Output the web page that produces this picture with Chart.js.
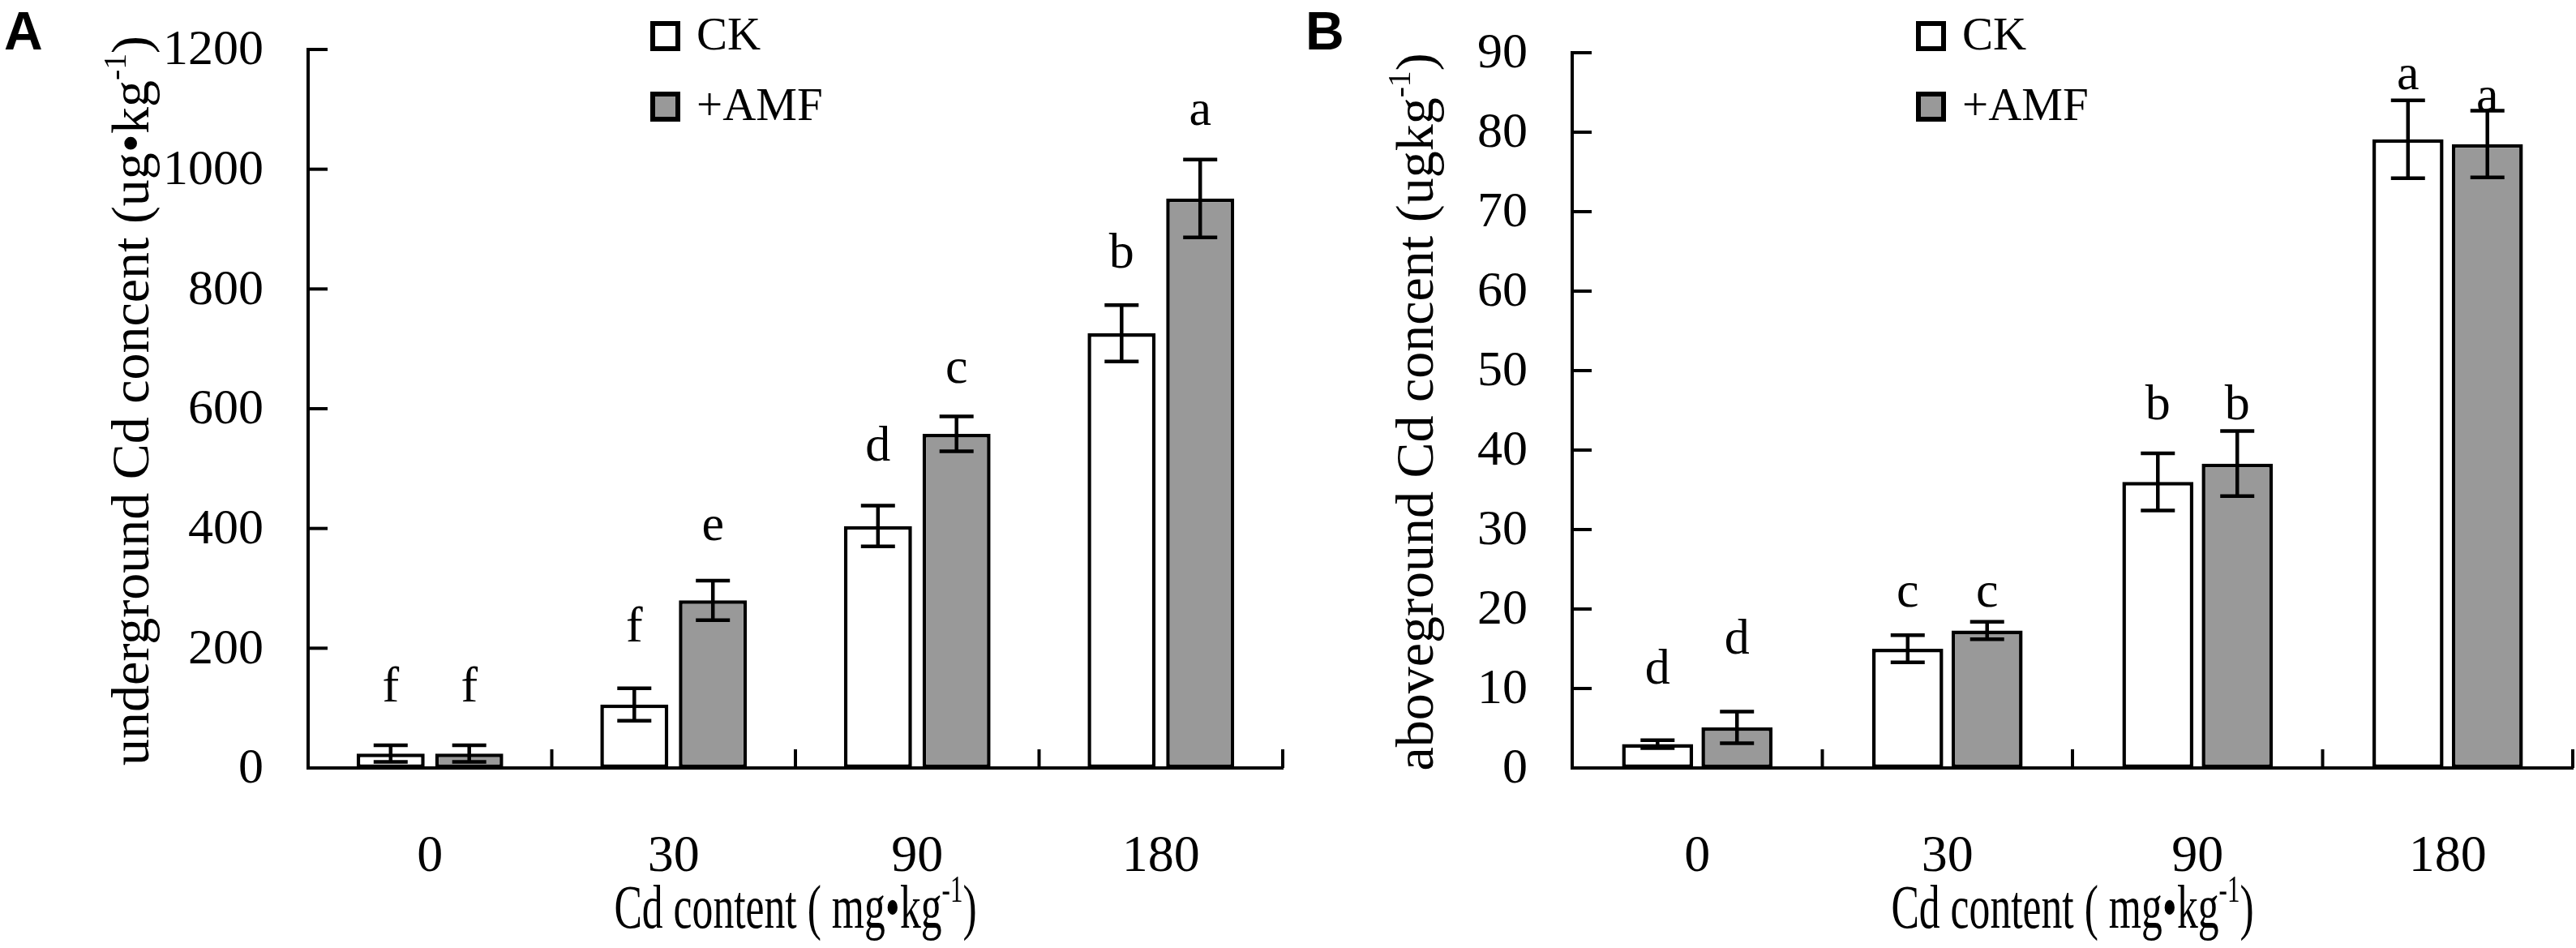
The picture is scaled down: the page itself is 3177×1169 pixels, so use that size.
<!DOCTYPE html>
<html>
<head>
<meta charset="utf-8">
<script src="https://cdn.jsdelivr.net/npm/chart.js@4.4.1/dist/chart.umd.min.js"></script>
<style>
  html, body { margin: 0; padding: 0; background: #fff; }
  #wrap { position: relative; width: 3177px; height: 1169px; overflow: hidden; }
  .panel { position: absolute; top: 0; height: 1169px; }
</style>
</head>
<body>
<div id="wrap">
  <div class="panel" style="left:0;width:1590px"><canvas id="chartA"></canvas></div>
  <div class="panel" style="left:1590px;width:1587px"><canvas id="chartB"></canvas></div>
</div>
<script>
/* ── data ── */
const doses = ['0', '30', '90', '180'];
const seriesNames = ['CK', '+AMF'];

// A: underground Cd (ug/kg)
const ugTicks    = [0, 200, 400, 600, 800, 1000, 1200];
const ugCK       = [24, 106, 404, 726];
const ugCKerr    = [14, 27, 34, 47];
const ugAMF      = [24, 280, 558, 951];
const ugAMFerr   = [14, 33, 29, 65];
const ugCKsig    = ['f', 'f', 'd', 'b'];
const ugAMFsig   = ['f', 'e', 'c', 'a'];
const ugCKsigAt  = [133, 234, 536, 858];
const ugAMFsigAt = [133, 402, 665, 1096];

// B: aboveground Cd (ug/kg)
const agTicks    = [0, 10, 20, 30, 40, 50, 60, 70, 80, 90];
const agCK       = [3.0, 15.0, 36.0, 79.1];
const agCKerr    = [0.5, 1.7, 3.6, 4.9];
const agAMF      = [5.1, 17.3, 38.3, 78.5];
const agAMFerr   = [2.0, 1.1, 4.1, 4.2];
const agCKsig    = ['d', 'c', 'b', 'a'];
const agAMFsig   = ['d', 'c', 'b', 'a'];
const agCKsigAt  = [12.3, 22.0, 45.5, 87.1];
const agAMFsigAt = [16.1, 22.0, 45.5, 84.3];

/* ── style ── */
const SERIF = '"Liberation Serif", "Times New Roman", serif';
const SANS  = '"Liberation Sans", Arial, sans-serif';
const GREY  = '#999999';
const INK   = '#000';

const panels = {
  chartA: {
    letter: 'A', letterX: 5,
    yTitle: [{ t: 'underground Cd concent (ug\u2022kg' }, { t: '-1', sup: true }, { t: ')' }],
    yTitleX: 161, yTitleY: 494,
    ticks: ugTicks, legendX: 802,
  },
  chartB: {
    letter: 'B', letterX: 20,
    yTitle: [{ t: 'aboveground Cd concent (ugkg' }, { t: '-1', sup: true }, { t: ')' }],
    yTitleX: 155, yTitleY: 508,
    ticks: agTicks, legendX: 773,
  }
};
const xTitle = [{ t: 'Cd content ( mg\u2022kg' }, { t: '-1', sup: true }, { t: ')' }];

// centred text with a superscript part; sx squeezes it horizontally
function drawRich(ctx, parts, x, y, size, sx) {
  sx = sx || 1;
  const supSize = size * 0.6;
  let w = 0;
  parts.forEach(p => {
    ctx.font = (p.sup ? supSize : size) + 'px ' + SERIF;
    w += ctx.measureText(p.t).width;
  });
  ctx.save();
  ctx.translate(x, y);
  ctx.scale(sx, 1);
  let cx = -w / 2;
  const base = size * 0.33;
  ctx.textAlign = 'left';
  ctx.textBaseline = 'alphabetic';
  parts.forEach(p => {
    ctx.font = (p.sup ? supSize : size) + 'px ' + SERIF;
    ctx.fillText(p.t, cx, p.sup ? base - size * 0.42 : base);
    cx += ctx.measureText(p.t).width;
  });
  ctx.restore();
}

const figPlugin = {
  id: 'fig',
  afterDraw(chart) {
    const cfg = panels[chart.canvas.id];
    const ctx = chart.ctx;
    const xs = chart.scales.x, ys = chart.scales.y;
    const area = chart.chartArea;
    ctx.save();
    ctx.fillStyle = INK;
    ctx.strokeStyle = INK;
    ctx.lineCap = 'butt';

    // inward y ticks + labels
    ctx.lineWidth = 4;
    cfg.ticks.forEach(t => {
      const y = ys.getPixelForValue(t);
      ctx.beginPath();
      ctx.moveTo(area.left, y);
      ctx.lineTo(area.left + 24, y);
      ctx.stroke();
      ctx.font = '62px ' + SERIF;
      ctx.textAlign = 'right';
      ctx.textBaseline = 'middle';
      ctx.fillText(String(t), area.left - 55, y + 2);
    });

    // category boundary ticks + labels
    const step = xs.getPixelForValue(1) - xs.getPixelForValue(0);
    doses.forEach((d, i) => {
      const x = xs.getPixelForValue(i);
      ctx.beginPath();
      ctx.moveTo(x + step / 2, area.bottom);
      ctx.lineTo(x + step / 2, area.bottom - 23);
      ctx.stroke();
      ctx.font = '64px ' + SERIF;
      ctx.textAlign = 'center';
      ctx.textBaseline = 'middle';
      ctx.fillText(d, x, area.bottom + 110);
    });

    // error bars and significance letters
    chart.data.datasets.forEach((ds, di) => {
      const meta = chart.getDatasetMeta(di);
      meta.data.forEach((bar, i) => {
        const v = ds.data[i], e = ds.err[i];
        const yt = ys.getPixelForValue(v + e);
        const yb = ys.getPixelForValue(Math.max(0, v - e));
        ctx.lineWidth = 4.5;
        ctx.beginPath();
        ctx.moveTo(bar.x, yt); ctx.lineTo(bar.x, yb);
        ctx.moveTo(bar.x - 21, yt); ctx.lineTo(bar.x + 21, yt);
        ctx.moveTo(bar.x - 21, yb); ctx.lineTo(bar.x + 21, yb);
        ctx.stroke();
        ctx.font = '62px ' + SERIF;
        ctx.textAlign = 'center';
        ctx.textBaseline = 'middle';
        ctx.fillText(ds.sig[i], bar.x, ys.getPixelForValue(ds.sigAt[i]));
      });
    });

    // legend
    chart.data.datasets.forEach((ds, di) => {
      const bx = cfg.legendX, by = 26 + di * 87;
      ctx.fillStyle = ds.backgroundColor;
      ctx.fillRect(bx, by, 37, 37);
      ctx.lineWidth = 6;
      ctx.strokeRect(bx + 3, by + 3, 31, 31);
      ctx.fillStyle = INK;
      ctx.font = '57px ' + SERIF;
      ctx.textAlign = 'left';
      ctx.textBaseline = 'middle';
      ctx.fillText(ds.label, bx + 57, by + 20);
    });

    // axis titles
    drawRich(ctx, xTitle, (area.left + area.right) / 2, area.bottom + 172, 76, 0.68);
    ctx.save();
    ctx.translate(cfg.yTitleX, cfg.yTitleY);
    ctx.rotate(-Math.PI / 2);
    drawRich(ctx, cfg.yTitle, 0, 0, 66);
    ctx.restore();

    // panel letter
    ctx.font = 'bold 66px ' + SANS;
    ctx.textAlign = 'left';
    ctx.textBaseline = 'top';
    ctx.fillText(cfg.letter, cfg.letterX, 10);
    ctx.restore();
  }
};

function barSet(label, data, err, sig, sigAt, fill, catPct, barPct) {
  return {
    label, data, err, sig, sigAt,
    backgroundColor: fill,
    borderColor: INK,
    borderWidth: 4.5,
    borderSkipped: false,
    categoryPercentage: catPct,
    barPercentage: barPct,
  };
}

function makeChart(id, ck, ckErr, ckSig, ckSigAt, amf, amfErr, amfSig, amfSigAt, ticks, pad, catPct, barPct) {
  return new Chart(document.getElementById(id), {
    type: 'bar',
    data: {
      labels: doses,
      datasets: [
        barSet(seriesNames[0], ck, ckErr, ckSig, ckSigAt, '#ffffff', catPct, barPct),
        barSet(seriesNames[1], amf, amfErr, amfSig, amfSigAt, GREY, catPct, barPct),
      ]
    },
    options: {
      responsive: true,
      maintainAspectRatio: false,
      animation: false,
      devicePixelRatio: 1,
      layout: { padding: pad },
      plugins: { legend: { display: false }, tooltip: { enabled: false } },
      scales: {
        x: {
          grid: { display: false, drawTicks: false },
          ticks: { display: false },
          border: { display: true, color: INK, width: 4 },
        },
        y: {
          min: ticks[0], max: ticks[ticks.length - 1],
          grid: { display: false, drawTicks: false },
          ticks: { display: false, stepSize: ticks[1] - ticks[0] },
          border: { display: true, color: INK, width: 4 },
        }
      }
    },
    plugins: [figPlugin]
  });
}

/* ── A. underground ── */
makeChart('chartA', ugCK, ugCKerr, ugCKsig, ugCKsigAt, ugAMF, ugAMFerr, ugAMFsig, ugAMFsigAt,
  ugTicks, { left: 380, right: 8, top: 61, bottom: 222 }, 0.645, 0.866);

/* ── B. aboveground ── */
makeChart('chartB', agCK, agCKerr, agCKsig, agCKsigAt, agAMF, agAMFerr, agAMFsig, agAMFsigAt,
  agTicks, { left: 349, right: 4, top: 65, bottom: 222 }, 0.635, 0.895);
</script>
</body>
</html>
